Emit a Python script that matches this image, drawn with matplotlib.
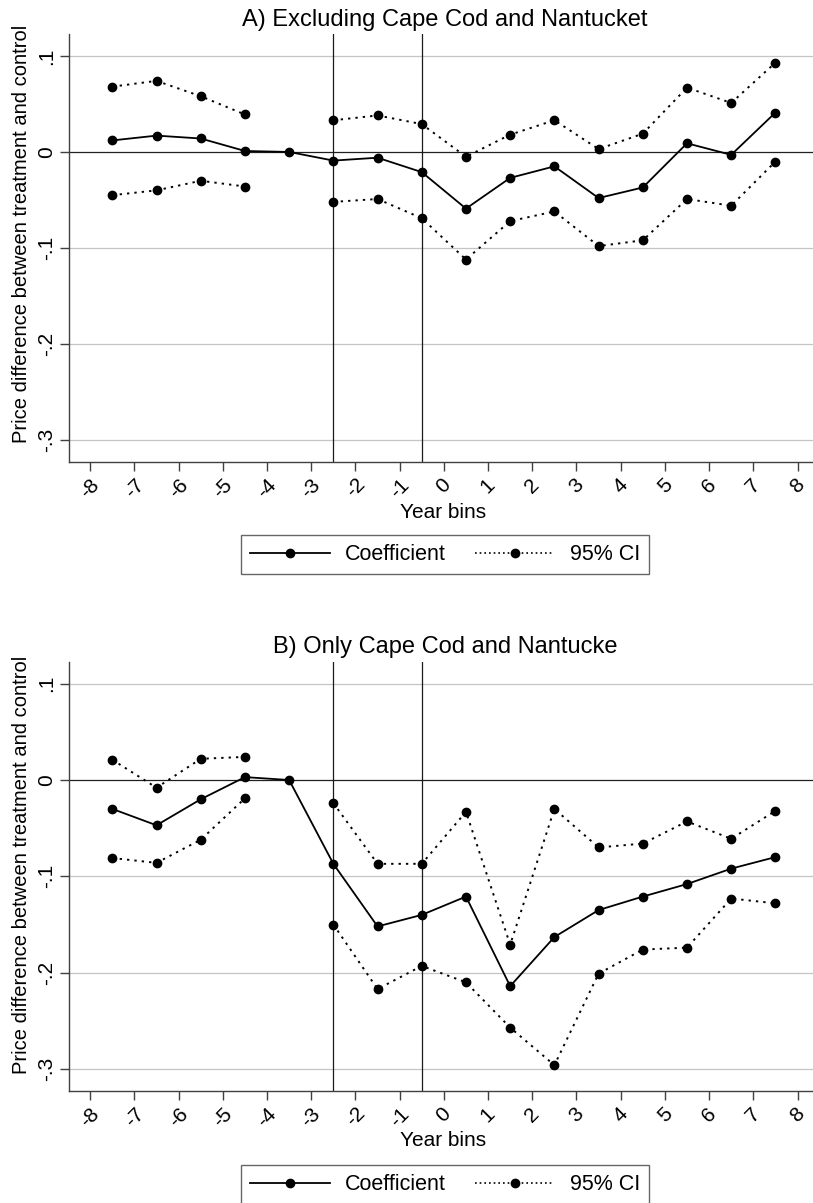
import numpy as np
import matplotlib
matplotlib.use('Agg')
import matplotlib.pyplot as plt
from matplotlib.lines import Line2D

plt.rcParams['font.family'] = ['Liberation Sans', 'DejaVu Sans']

# year bins (bin centres) and tick labels
bins = [-7.5, -6.5, -5.5, -4.5, -3.5, -2.5, -1.5, -0.5,
        0.5, 1.5, 2.5, 3.5, 4.5, 5.5, 6.5, 7.5]
xticks = [-8, -7, -6, -5, -4, -3, -2, -1, 0, 1, 2, 3, 4, 5, 6, 7, 8]
xticklabels = ['-8', '-7', '-6', '-5', '-4', '-3', '-2', '-1', '0',
               '1', '2', '3', '4', '5', '6', '7', '8']
yticks = [0.1, 0.0, -0.1, -0.2, -0.3]
yticklabels = ['.1', '0', '-.1', '-.2', '-.3']
event_lines = [-2.5, -0.5]
nan = np.nan

# A) Excluding Cape Cod and Nantucket
coef_a = [0.012, 0.017, 0.014, 0.001, 0.0, -0.009, -0.006, -0.021,
          -0.059, -0.027, -0.015, -0.048, -0.037, 0.009, -0.003, 0.041]
upper_a = [0.068, 0.074, 0.058, 0.039, nan, 0.033, 0.038, 0.029,
           -0.005, 0.018, 0.033, 0.003, 0.019, 0.067, 0.051, 0.093]
lower_a = [-0.045, -0.040, -0.030, -0.036, nan, -0.052, -0.049, -0.069,
           -0.112, -0.072, -0.062, -0.098, -0.092, -0.049, -0.056, -0.010]

# B) Only Cape Cod and Nantucket
coef_b = [-0.030, -0.047, -0.020, 0.003, 0.0, -0.087, -0.152, -0.140,
          -0.121, -0.214, -0.163, -0.135, -0.121, -0.108, -0.092, -0.080]
upper_b = [0.021, -0.008, 0.022, 0.024, nan, -0.024, -0.087, -0.087,
           -0.033, -0.171, -0.030, -0.070, -0.066, -0.043, -0.061, -0.032]
lower_b = [-0.081, -0.086, -0.062, -0.019, nan, -0.150, -0.217, -0.193,
           -0.210, -0.257, -0.296, -0.201, -0.176, -0.174, -0.123, -0.128]

W, H = 813, 1203
fig = plt.figure(figsize=(W / 100, H / 100), dpi=100)

dotted = (0, (1.2, 2.6))
axis_col = '#404040'


def draw_panel(ax, coef, upper, lower):
    for y in yticks:
        if y == 0:
            ax.axhline(0, color='#202020', lw=0.9, zorder=1)
        else:
            ax.axhline(y, color='#c4c4c4', lw=0.9, zorder=0)
    for x in event_lines:
        ax.axvline(x, color='#1a1a1a', lw=0.9, zorder=1)
    ax.plot(bins, upper, color='black', lw=1.4, ls=dotted,
            marker='o', ms=6, zorder=3)
    ax.plot(bins, lower, color='black', lw=1.4, ls=dotted,
            marker='o', ms=6, zorder=3)
    ax.plot(bins, coef, color='black', lw=1.3, ls='-',
            marker='o', ms=6, zorder=4)

    ax.set_xlim(-8.48, 8.35)
    ax.set_ylim(-0.3225, 0.1228)
    ax.set_xticks(xticks)
    ax.set_xticklabels(xticklabels, rotation=45, ha='center', va='top',
                       fontsize=15)
    ax.set_yticks(yticks)
    ax.set_yticklabels(yticklabels, rotation=90, va='center', fontsize=15)
    ax.tick_params(axis='both', length=6.5, width=1.0, color=axis_col, pad=3)
    for s in ['top', 'right']:
        ax.spines[s].set_visible(False)
    for s in ['left', 'bottom']:
        ax.spines[s].set_color(axis_col)
        ax.spines[s].set_linewidth(1.0)


def add_legend(ycenter):
    handles = [
        Line2D([], [], color='black', lw=1.3, ls='-', marker='o', ms=6),
        Line2D([], [], color='black', lw=1.2, ls=(0, (1.0, 1.8)), marker='o', ms=6),
    ]
    leg = fig.legend(handles, ['Coefficient', '95% CI'], ncol=2,
                     loc='center', bbox_to_anchor=(445 / W, ycenter),
                     fontsize=15.5, frameon=True, fancybox=False,
                     handlelength=3.7, handletextpad=0.7, columnspacing=1.35,
                     borderpad=0.42, borderaxespad=0)
    leg.get_frame().set_edgecolor(axis_col)
    leg.get_frame().set_linewidth(1.0)


ax_a = fig.add_axes([69 / W, 1 - 461.7 / H, (W - 69) / W, (461.7 - 34) / H])
draw_panel(ax_a, coef_a, upper_a, lower_a)
ax_b = fig.add_axes([69 / W, 1 - 1090.7 / H, (W - 69) / W, (1090.7 - 661.7) / H])
draw_panel(ax_b, coef_b, upper_b, lower_b)

# titles and axis titles
fig.text(445 / W, 1 - 26 / H, 'A) Excluding Cape Cod and Nantucket',
         ha='center', va='baseline', fontsize=17)
fig.text(445 / W, 1 - 653 / H, 'B) Only Cape Cod and Nantucke',
         ha='center', va='baseline', fontsize=17)
for yc in [234, 865]:
    fig.text(22 / W, 1 - yc / H, 'Price difference between treatment and control',
             rotation=90, ha='center', va='center', fontsize=14.5)
for yc in [512, 1141]:
    fig.text(443 / W, 1 - yc / H, 'Year bins', ha='center', va='center', fontsize=15)

add_legend(1 - 554.7 / H)
add_legend(1 - 1184.7 / H)

fig.savefig('out.png', dpi=100, facecolor='white')
